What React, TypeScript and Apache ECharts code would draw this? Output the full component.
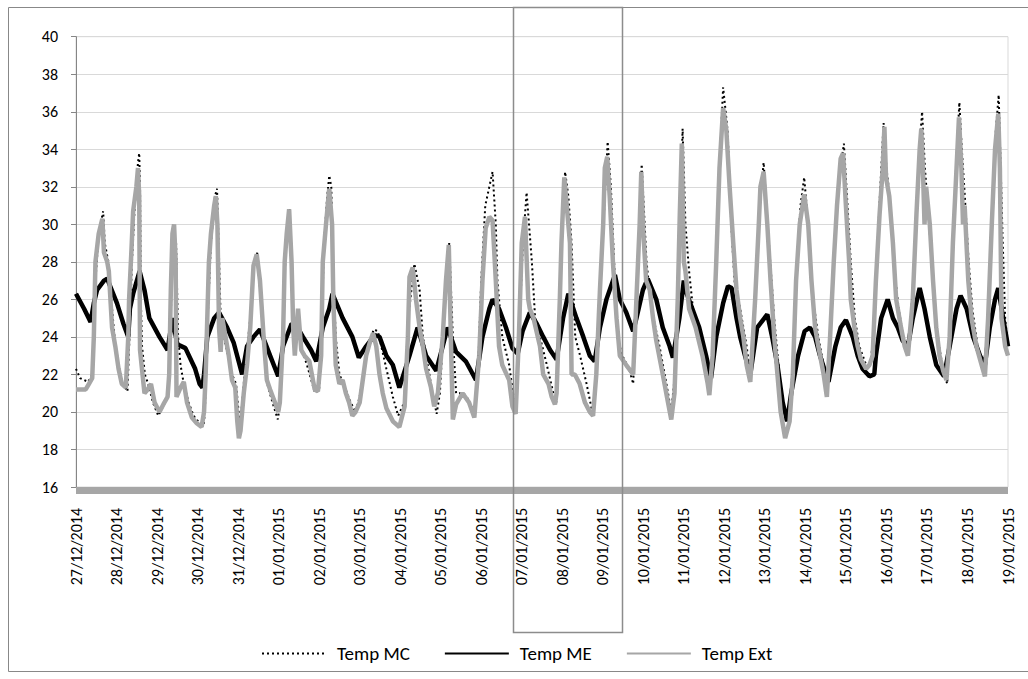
import React, { useEffect, useRef } from "react";
import * as echarts from "echarts";

const dateLabels = [
  "27/12/2014", "28/12/2014", "29/12/2014", "30/12/2014", "31/12/2014",
  "01/01/2015", "02/01/2015", "03/01/2015", "04/01/2015", "05/01/2015",
  "06/01/2015", "07/01/2015", "08/01/2015", "09/01/2015", "10/01/2015",
  "11/01/2015", "12/01/2015", "13/01/2015", "14/01/2015", "15/01/2015",
  "16/01/2015", "17/01/2015", "18/01/2015", "19/01/2015",
];

const yTicks = { min: 16, max: 40, step: 2 };

// [days since 27/12/2014 label, °C]
const tempMC = [
  [0.00,22.3],[0.10,21.8],[0.30,21.6],[0.40,22.0],[0.48,27.0],[0.56,29.5],[0.67,30.7],[0.71,29.0],[0.80,28.0],[0.87,26.0],[0.95,24.0],[1.05,22.5],[1.15,21.5],[1.27,21.1],[1.32,24.0],[1.38,28.0],[1.45,31.0],[1.53,33.3],[1.56,33.8],[1.58,32.0],[1.60,26.0],[1.63,23.5],[1.70,22.0],[1.78,21.5],[1.90,20.5],[2.03,19.8],[2.15,20.3],[2.25,20.7],[2.32,23.0],[2.36,27.0],[2.42,29.0],[2.47,29.0],[2.52,24.0],[2.58,22.5],[2.66,21.5],[2.78,20.5],[2.90,19.8],[3.05,19.4],[3.15,19.3],[3.18,20.0],[3.25,25.0],[3.33,29.0],[3.43,31.5],[3.48,31.9],[3.52,29.0],[3.57,25.0],[3.65,24.0],[3.75,23.0],[3.85,22.0],[3.95,21.5],[4.03,19.6],[4.08,20.0],[4.16,22.0],[4.30,25.0],[4.40,28.0],[4.48,28.5],[4.56,26.0],[4.65,23.0],[4.72,21.5],[4.85,20.5],[4.98,19.6],[5.04,20.5],[5.12,25.0],[5.18,29.0],[5.27,30.8],[5.31,29.0],[5.36,25.0],[5.45,24.5],[5.55,23.5],[5.70,22.5],[5.90,21.0],[6.00,21.2],[6.06,24.0],[6.12,29.0],[6.20,31.5],[6.25,32.6],[6.30,32.0],[6.34,28.0],[6.41,24.0],[6.50,22.0],[6.60,21.5],[6.78,20.5],[6.90,20.0],[7.00,20.8],[7.20,23.5],[7.35,24.4],[7.45,24.3],[7.66,22.3],[7.82,20.8],[7.95,19.8],[8.10,20.5],[8.20,25.0],[8.35,27.9],[8.48,26.5],[8.56,24.0],[8.80,21.0],[8.90,19.9],[8.98,21.0],[9.08,25.0],[9.21,29.0],[9.30,24.0],[9.38,21.0],[9.46,21.0],[9.62,20.9],[9.83,20.0],[9.92,22.0],[10.00,27.0],[10.10,31.0],[10.28,32.8],[10.36,30.0],[10.40,27.0],[10.52,24.0],[10.69,22.5],[10.85,20.0],[10.95,25.0],[11.03,29.0],[11.12,31.7],[11.25,28.0],[11.33,25.0],[11.45,24.0],[11.62,22.5],[11.78,21.0],[11.86,20.5],[11.93,25.0],[11.99,30.0],[12.07,32.8],[12.15,31.5],[12.23,29.0],[12.32,24.0],[12.44,23.0],[12.60,21.5],[12.76,19.8],[12.85,22.0],[12.97,28.0],[13.12,34.4],[13.20,32.0],[13.28,28.0],[13.36,24.0],[13.48,23.0],[13.65,22.3],[13.75,21.5],[13.82,25.0],[13.90,30.0],[13.96,33.2],[14.08,28.0],[14.20,25.5],[14.40,23.5],[14.57,21.5],[14.69,20.0],[14.78,22.0],[14.87,28.0],[14.97,35.1],[15.04,30.0],[15.13,27.5],[15.25,25.0],[15.46,23.5],[15.63,21.5],[15.72,23.0],[15.82,29.0],[15.90,34.0],[15.97,37.3],[16.08,35.0],[16.17,30.0],[16.25,27.0],[16.39,25.5],[16.55,23.5],[16.64,22.0],[16.77,26.0],[16.87,31.0],[16.97,33.3],[17.10,29.0],[17.23,25.0],[17.40,21.0],[17.52,19.5],[17.62,20.0],[17.70,23.0],[17.79,28.0],[17.88,31.0],[17.97,32.5],[18.07,30.0],[18.19,26.0],[18.32,24.0],[18.49,22.0],[18.55,21.0],[18.63,25.0],[18.72,29.0],[18.81,32.0],[18.95,34.3],[19.04,31.0],[19.12,28.0],[19.22,25.0],[19.33,23.5],[19.50,22.5],[19.60,22.5],[19.68,24.0],[19.76,28.0],[19.85,32.0],[19.93,35.4],[20.00,33.0],[20.08,31.5],[20.18,28.0],[20.30,25.5],[20.42,24.0],[20.54,23.0],[20.66,27.0],[20.75,31.0],[20.83,34.5],[20.88,36.0],[20.95,33.0],[21.02,31.0],[21.12,28.0],[21.22,25.0],[21.30,23.5],[21.42,22.0],[21.50,21.5],[21.57,25.0],[21.65,30.0],[21.74,34.0],[21.80,36.5],[21.86,34.0],[21.92,32.0],[22.03,28.0],[22.12,25.5],[22.25,23.5],[22.42,22.0],[22.53,26.0],[22.62,31.0],[22.70,35.0],[22.77,36.9],[22.82,33.0],[22.87,29.0],[22.93,25.0],[23.00,23.5],
];

const tempME = [
  [0.00,26.3],[0.20,25.5],[0.36,24.8],[0.44,25.8],[0.52,26.5],[0.69,27.0],[0.77,27.1],[1.01,25.8],[1.17,24.7],[1.29,24.0],[1.33,25.5],[1.41,26.3],[1.57,27.5],[1.69,26.5],[1.81,25.0],[2.06,24.0],[2.26,23.3],[2.38,25.0],[2.50,23.6],[2.70,23.4],[2.94,22.3],[3.05,21.5],[3.12,21.3],[3.16,22.0],[3.24,24.0],[3.41,25.0],[3.53,25.3],[3.73,24.5],[3.89,23.7],[4.10,22.0],[4.22,23.5],[4.38,24.0],[4.54,24.4],[4.79,23.0],[4.99,21.9],[5.11,23.5],[5.32,24.7],[5.44,24.6],[5.60,24.0],[5.80,23.3],[5.93,22.7],[6.09,24.5],[6.25,25.5],[6.33,26.3],[6.58,25.0],[6.82,24.0],[6.98,22.9],[7.16,23.5],[7.37,24.1],[7.49,24.0],[7.66,23.0],[7.82,22.5],[7.98,21.3],[8.23,23.0],[8.43,24.5],[8.64,23.0],[8.89,22.2],[9.05,23.5],[9.17,24.5],[9.38,23.2],[9.62,22.7],[9.87,21.7],[10.03,24.0],[10.20,25.5],[10.28,26.0],[10.44,25.5],[10.61,24.5],[10.77,23.4],[10.90,23.1],[11.02,24.3],[11.20,25.3],[11.37,24.7],[11.53,24.0],[11.70,23.3],[11.86,22.8],[12.02,25.0],[12.15,26.3],[12.35,25.0],[12.52,24.0],[12.68,23.0],[12.80,22.7],[12.93,24.5],[13.09,26.0],[13.30,27.3],[13.42,26.0],[13.58,25.3],[13.75,24.3],[13.83,25.0],[13.99,26.5],[14.11,27.1],[14.32,26.0],[14.48,24.5],[14.65,23.5],[14.73,22.9],[14.89,25.0],[15.00,27.0],[15.04,26.5],[15.21,25.5],[15.38,24.5],[15.55,23.0],[15.67,21.8],[15.80,24.0],[15.97,25.8],[16.09,26.7],[16.18,26.6],[16.30,25.0],[16.39,24.0],[16.51,23.0],[16.64,22.0],[16.81,24.5],[17.06,25.2],[17.18,24.0],[17.31,22.5],[17.44,20.5],[17.55,19.5],[17.65,21.0],[17.82,23.0],[17.98,24.3],[18.11,24.5],[18.24,24.0],[18.36,23.0],[18.57,21.6],[18.74,23.5],[18.87,24.5],[19.00,24.9],[19.17,24.0],[19.29,23.0],[19.41,22.3],[19.58,21.9],[19.70,22.0],[19.74,23.0],[19.87,25.0],[20.03,26.0],[20.16,25.0],[20.28,24.5],[20.40,23.8],[20.53,23.5],[20.65,25.0],[20.82,26.6],[20.94,25.5],[21.07,24.0],[21.23,22.5],[21.42,21.9],[21.56,23.5],[21.73,25.5],[21.83,26.2],[21.98,25.5],[22.14,24.0],[22.31,23.0],[22.43,22.5],[22.55,24.5],[22.68,26.0],[22.76,26.6],[22.88,25.0],[23.00,23.5],
];

const tempExt = [
  [0.00,21.2],[0.24,21.2],[0.32,21.5],[0.40,21.8],[0.44,24.0],[0.48,28.0],[0.56,29.5],[0.65,30.3],[0.69,28.5],[0.77,28.0],[0.81,27.5],[0.89,24.5],[0.97,23.5],[1.05,22.3],[1.13,21.5],[1.23,21.3],[1.29,24.0],[1.31,26.0],[1.37,28.7],[1.41,30.7],[1.49,32.0],[1.53,33.0],[1.56,31.5],[1.58,23.3],[1.69,21.0],[1.77,21.2],[1.85,21.5],[1.94,20.5],[2.06,20.0],[2.18,20.5],[2.26,20.8],[2.30,22.0],[2.34,26.5],[2.38,29.5],[2.42,30.0],[2.46,28.0],[2.48,20.8],[2.58,21.3],[2.66,21.6],[2.74,20.5],[2.86,19.7],[2.98,19.4],[3.10,19.2],[3.16,20.0],[3.20,22.0],[3.28,28.0],[3.33,29.5],[3.41,31.0],[3.45,31.5],[3.49,30.0],[3.53,24.5],[3.57,23.2],[3.61,25.0],[3.69,24.0],[3.77,23.0],[3.85,21.7],[3.93,21.3],[3.98,19.5],[4.02,18.6],[4.06,19.0],[4.14,21.0],[4.22,22.5],[4.30,24.5],[4.38,27.8],[4.46,28.4],[4.54,27.0],[4.63,24.0],[4.71,21.7],[4.79,21.2],[4.91,20.5],[4.99,20.0],[5.03,20.5],[5.11,24.0],[5.15,28.0],[5.20,29.5],[5.26,30.8],[5.32,28.0],[5.36,24.5],[5.40,23.0],[5.48,25.5],[5.56,23.3],[5.64,23.0],[5.76,22.7],[5.89,21.2],[5.97,21.1],[6.05,23.0],[6.09,28.0],[6.17,30.0],[6.25,31.9],[6.32,30.0],[6.35,26.0],[6.41,22.5],[6.50,21.5],[6.58,21.7],[6.66,21.0],[6.74,20.5],[6.82,19.8],[6.90,20.0],[7.00,20.5],[7.16,23.0],[7.25,23.7],[7.33,24.2],[7.41,23.5],[7.49,22.0],[7.57,21.0],[7.66,20.2],[7.82,19.5],[7.98,19.2],[8.11,20.3],[8.19,24.0],[8.23,27.2],[8.31,27.7],[8.39,26.0],[8.48,24.5],[8.56,23.5],[8.64,22.3],[8.76,21.3],[8.84,20.3],[8.93,21.0],[9.05,24.0],[9.13,27.0],[9.20,28.9],[9.25,24.0],[9.30,19.6],[9.38,20.4],[9.54,21.0],[9.70,20.5],[9.83,19.7],[9.95,23.0],[10.03,27.0],[10.11,29.8],[10.20,30.4],[10.28,30.2],[10.36,27.0],[10.44,23.5],[10.52,22.5],[10.69,21.7],[10.77,20.3],[10.85,19.9],[10.93,24.0],[11.00,29.0],[11.08,30.4],[11.16,26.0],[11.20,25.5],[11.29,25.0],[11.45,23.5],[11.53,22.0],[11.66,21.5],[11.74,20.8],[11.82,20.4],[11.86,21.0],[11.94,26.0],[11.98,29.0],[12.05,32.5],[12.11,31.0],[12.19,29.0],[12.23,22.0],[12.31,22.0],[12.43,21.5],[12.56,20.5],[12.68,20.0],[12.76,19.8],[12.84,22.0],[12.93,26.5],[13.01,30.0],[13.05,33.0],[13.11,33.6],[13.17,31.5],[13.25,28.0],[13.34,25.0],[13.42,23.0],[13.58,22.5],[13.75,22.0],[13.79,24.0],[13.87,28.0],[13.91,30.0],[13.95,32.8],[13.99,30.0],[14.07,27.0],[14.16,26.5],[14.24,25.0],[14.32,23.8],[14.48,22.0],[14.61,20.5],[14.69,19.6],[14.77,21.0],[14.85,26.0],[14.90,30.5],[14.95,34.3],[15.00,28.0],[15.04,27.5],[15.13,25.5],[15.29,24.5],[15.46,23.0],[15.59,21.5],[15.63,20.9],[15.71,23.0],[15.80,28.0],[15.88,33.0],[15.97,36.2],[16.05,35.0],[16.13,32.0],[16.22,29.0],[16.30,26.5],[16.39,25.0],[16.47,24.0],[16.55,22.5],[16.64,21.6],[16.76,26.0],[16.85,30.0],[16.89,32.0],[16.97,32.8],[17.06,30.0],[17.14,27.0],[17.23,24.0],[17.31,22.0],[17.39,20.0],[17.50,18.6],[17.61,19.5],[17.69,22.0],[17.77,27.0],[17.86,30.0],[17.97,31.6],[18.07,30.0],[18.15,27.0],[18.24,24.5],[18.32,23.5],[18.45,22.0],[18.53,20.8],[18.61,24.0],[18.70,28.0],[18.78,31.0],[18.87,33.5],[18.93,33.8],[19.00,31.0],[19.08,28.0],[19.12,26.0],[19.21,24.5],[19.29,23.5],[19.37,22.8],[19.50,22.3],[19.58,22.5],[19.66,23.0],[19.74,27.0],[19.83,30.5],[19.91,33.0],[19.95,35.2],[19.99,32.5],[20.07,31.5],[20.16,29.0],[20.24,26.0],[20.36,24.5],[20.45,23.5],[20.53,23.0],[20.65,26.0],[20.74,30.5],[20.82,34.0],[20.86,35.1],[20.90,33.0],[20.94,30.0],[20.98,32.0],[21.07,30.0],[21.15,27.0],[21.23,24.5],[21.31,23.0],[21.40,22.2],[21.48,21.7],[21.56,24.0],[21.64,29.0],[21.73,33.0],[21.79,35.7],[21.85,33.0],[21.89,30.0],[21.93,31.0],[22.02,27.0],[22.10,25.0],[22.22,23.5],[22.35,22.5],[22.43,21.9],[22.51,25.0],[22.60,30.0],[22.68,34.0],[22.76,35.9],[22.80,33.0],[22.84,25.0],[22.93,23.5],[23.00,23.0],
];

const seriesNames = ["Temp MC", "Temp ME", "Temp Ext"];

const FONT = "Carlito, Lato, sans-serif";

export default function App() {
  const ref = useRef<HTMLDivElement>(null);

  useEffect(() => {
    document.body.style.margin = "0";
    if (!ref.current) return;
    const chart = echarts.init(ref.current, null, { renderer: "svg" });
    chart.setOption({
      animation: false,
      backgroundColor: "#ffffff",
      textStyle: { fontFamily: FONT },
      grid: {
        left: 76,
        right: 20,
        top: 36.7,
        bottom: 192,
        show: true,
        borderColor: "#d9d9d9",
        borderWidth: 1,
        backgroundColor: "transparent",
      },
      xAxis: {
        type: "value",
        min: 0,
        max: dateLabels.length - 1,
        interval: 1,
        offset: 3,
        axisLine: { show: true, lineStyle: { color: "#a6a6a6", width: 7, cap: "butt" } },
        axisTick: { show: false },
        splitLine: { show: false },
        axisLabel: {
          rotate: 90,
          margin: 18,
          fontSize: 16,
          color: "#000",
          fontFamily: FONT,
          showMinLabel: true,
          showMaxLabel: true,
          formatter: (v: number) =>
            Number.isInteger(v) && dateLabels[v] ? dateLabels[v] : "",
        },
      },
      yAxis: {
        type: "value",
        min: yTicks.min,
        max: yTicks.max,
        interval: yTicks.step,
        axisLine: { show: true, lineStyle: { color: "#868686", width: 1 } },
        axisTick: { show: true, length: 5, lineStyle: { color: "#868686" } },
        splitLine: { show: true, lineStyle: { color: "#d9d9d9", width: 1 } },
        axisLabel: { fontSize: 16, color: "#000", margin: 18, fontFamily: FONT },
      },
      legend: {
        left: 256,
        top: 639,
        itemWidth: 64,
        itemHeight: 12,
        itemGap: 34,
        data: seriesNames,
        textStyle: { fontSize: 19, color: "#000", fontFamily: FONT, padding: [0, 0, 0, 6] },
        itemStyle: { opacity: 0 },
        lineStyle: { width: 2 },
      },
      series: [
        {
          name: seriesNames[0],
          type: "line",
          data: tempMC,
          symbol: "none",
          showSymbol: false,
          lineStyle: { color: "#000", width: 2, type: [2, 3] },
          itemStyle: { color: "#000" },
          z: 2,
        },
        {
          name: seriesNames[1],
          type: "line",
          data: tempME,
          symbol: "none",
          showSymbol: false,
          lineStyle: { color: "#000", width: 4.5 },
          itemStyle: { color: "#000" },
          z: 3,
        },
        {
          name: seriesNames[2],
          type: "line",
          data: tempExt,
          symbol: "none",
          showSymbol: false,
          lineStyle: { color: "#a6a6a6", width: 4.5 },
          itemStyle: { color: "#a6a6a6" },
          z: 4,
        },
      ],
      graphic: [
        {
          type: "rect",
          shape: { x: 8.5, y: 7.5, width: 1030, height: 664 },
          style: { fill: "none", stroke: "#888888", lineWidth: 1 },
          silent: true,
          z: 100,
        },
        {
          type: "rect",
          shape: { x: 513.5, y: 7.5, width: 109, height: 625 },
          style: { fill: "none", stroke: "#8c8c8c", lineWidth: 1.5 },
          silent: true,
          z: 101,
        },
      ],
    });
    return () => chart.dispose();
  }, []);

  return <div ref={ref} style={{ width: 1028, height: 679 }} />;
}
